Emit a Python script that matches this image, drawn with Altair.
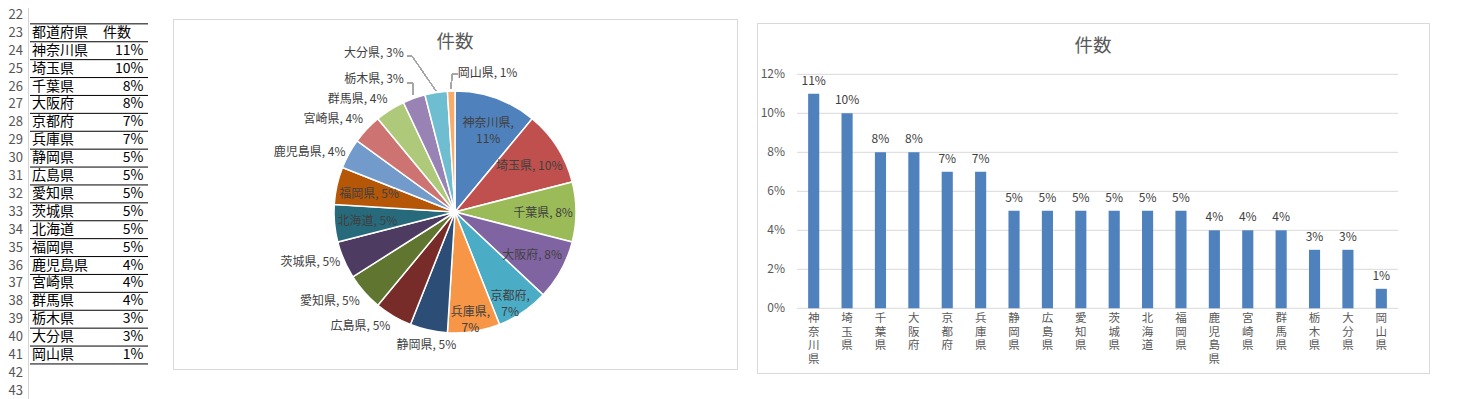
import math
import altair as alt
import pandas as pd

# ---------------- data ----------------
PREFS = ["神奈川県", "埼玉県", "千葉県", "大阪府", "京都府", "兵庫県", "静岡県", "広島県", "愛知県",
         "茨城県", "北海道", "福岡県", "鹿児島県", "宮崎県", "群馬県", "栃木県", "大分県", "岡山県"]
PCTS = [11, 10, 8, 8, 7, 7, 5, 5, 5, 5, 5, 5, 4, 4, 4, 3, 3, 1]
TABLE_HEADER = ["都道府県", "件数"]
ROW_NUMBERS = [22, 23, 24, 25, 26, 27, 28, 29, 30, 31, 32, 33, 34, 35, 36, 37, 38, 39, 40, 41, 42, 43]
Y_TICKS = [0, 2, 4, 6, 8, 10, 12]
CHART_TITLE = "件数"

# ---------------- styles / layout ----------------
SLICE_COLORS = ["#4F81BD", "#C0504D", "#9BBB59", "#8064A2", "#4BACC6", "#F79646",
                "#2C4D75", "#772C2A", "#5F7530", "#4D3B62", "#276A7C", "#B65708",
                "#729ACA", "#CD7371", "#AFC97A", "#9983B5", "#6FBDD1", "#F9AB6B"]
BAR_COLOR = "#4F81BD"
FONT = "Noto Sans CJK JP"
TXT = "#404040"
AX = "#595959"
FRAME = "#D9D9D9"
M = 8
W, H = 1451, 391


def P(v):
    return v - M


FIRST_DATA_ROW = 24
HEADER_ROW = 23

# pie
PIE_CX, PIE_CY, PIE_R = P(455), P(212), 121
LABEL_GROUPS = [
    # names, radius, align, baseline, dx, dy, two_line
    (["埼玉県", "千葉県", "大阪府", "北海道", "福岡県"], 88, "center", "middle", 0, 1, False),
    (["神奈川県", "京都府", "兵庫県"], 98, "center", "middle", 0, 3, True),
    (["静岡県"], 131, "center", "top", 0, 0, False),
    (["広島県", "愛知県"], 127, "right", "top", 0, 0, False),
    (["茨城県", "鹿児島県"], 125, "right", "middle", 0, 0, False),
    (["宮崎県", "群馬県"], 126, "right", "bottom", 0, 0, False),
    (["栃木県"], 136, "right", "bottom", -5, 2, False),
    (["大分県"], 155, "right", "bottom", -27, 1, False),
    (["岡山県"], 139, "left", "middle", 7, 0, False),
]
LEADERS = [
    ((407, 83), (413, 83)), ((413, 83), (413, 95)),
    ((407, 56), (412, 56)), ((412, 56), (436, 91)),
    ((458, 74), (452, 74)), ((452, 74), (451, 89)),
]

# ---------------- tables ----------------
rows_df = pd.DataFrame({"row": ROW_NUMBERS})
tbl_df = pd.DataFrame({
    "i": list(range(len(PREFS))),
    "name": PREFS,
    "pct": PCTS,
})
tbl_df["row"] = [ROW_NUMBERS[ROW_NUMBERS.index(FIRST_DATA_ROW) + k] for k in range(len(PREFS))]
hdr_df = pd.DataFrame({"row": [HEADER_ROW, HEADER_ROW], "txt": TABLE_HEADER, "col": [0, 1]})
line_df = pd.DataFrame({"row": [r for r in ROW_NUMBERS if HEADER_ROW - 1 <= r <= tbl_df["row"].max()]})
tick_df = pd.DataFrame({"v": Y_TICKS})

row_scale = alt.Scale(domain=[22, 43], range=[P(14.9), P(390.8)], nice=False, zero=False)
theta_scale = alt.Scale(domain=[0, 100], range=[0, 2 * math.pi])
xband = alt.Scale(domain=PREFS, range=[P(797), P(1398)], paddingInner=2 / 3, paddingOuter=1 / 3)
yscale = alt.Scale(domain=[0, 12], range=[P(308.3), P(74.3)], nice=False, zero=False)

layers = []

# ---------- spreadsheet part ----------
layers.append(alt.Chart(rows_df).mark_text(align="left", baseline="middle", font=FONT, fontSize=13,
                                           color="#555555").encode(
    x=alt.value(0.5), y=alt.Y("row:Q", scale=row_scale, axis=None), text="row:N"))
layers.append(alt.Chart(rows_df).mark_rule(color="#D4D4D4", strokeWidth=1).encode(
    x=alt.value(P(28.5)), y=alt.value(0), y2=alt.value(H)))
layers.append(alt.Chart(line_df).transform_calculate(yy="datum.row + 0.5").mark_rule(
    color="#000000", strokeWidth=1).encode(
    x=alt.value(P(30)), x2=alt.value(P(148)), y=alt.Y("yy:Q", scale=row_scale, axis=None)))
layers.append(alt.Chart(hdr_df).transform_filter("datum.col == 0").mark_text(
    align="left", baseline="middle", font=FONT, fontSize=14, color="#000000").encode(
    x=alt.value(P(32)), y=alt.Y("row:Q", scale=row_scale, axis=None), text="txt:N"))
layers.append(alt.Chart(hdr_df).transform_filter("datum.col == 1").mark_text(
    align="left", baseline="middle", font=FONT, fontSize=14, color="#000000").encode(
    x=alt.value(P(103)), y=alt.Y("row:Q", scale=row_scale, axis=None), text="txt:N"))
layers.append(alt.Chart(tbl_df).mark_text(
    align="left", baseline="middle", font=FONT, fontSize=14, color="#000000").encode(
    x=alt.value(P(32)), y=alt.Y("row:Q", scale=row_scale, axis=None), text="name:N"))
layers.append(alt.Chart(tbl_df).transform_calculate(lbl="datum.pct + '%'").mark_text(
    align="right", baseline="middle", font=FONT, fontSize=14, color="#000000").encode(
    x=alt.value(P(143.5)), y=alt.Y("row:Q", scale=row_scale, axis=None), text="lbl:N"))

# ---------- pie chart ----------
layers.append(alt.Chart(rows_df).mark_rect(fill="white", stroke=FRAME, strokeWidth=1).encode(
    x=alt.value(P(173.5)), x2=alt.value(P(737.5)), y=alt.value(P(19.5)), y2=alt.value(P(369.5))))
layers.append(alt.Chart(pd.DataFrame({"t": [CHART_TITLE]})).mark_text(
    font=FONT, fontSize=18.5, color=AX, baseline="middle", align="center").encode(
    x=alt.value(P(455)), y=alt.value(P(42)), text="t:N"))


def pie_base():
    return alt.Chart(tbl_df).transform_window(
        end="sum(pct)", sort=[alt.SortField("i")], frame=[None, 0]
    ).transform_calculate(start="datum.end - datum.pct", mid="datum.end - datum.pct / 2")


layers.append(pie_base().mark_arc(outerRadius=PIE_R, stroke="white", strokeWidth=1.5).encode(
    theta=alt.Theta("start:Q", scale=theta_scale),
    theta2="end:Q",
    color=alt.Color("name:N", scale=alt.Scale(domain=PREFS, range=SLICE_COLORS), legend=None),
    x=alt.value(PIE_CX), y=alt.value(PIE_CY)))

for names, r, al, bl, dx, dy, two in LABEL_GROUPS:
    sep = ",\\n" if two else ", "
    lst = "[" + ",".join("'" + n + "'" for n in names) + "]"
    layers.append(pie_base().transform_filter("indexof(" + lst + ", datum.name) >= 0").transform_calculate(
        lbl="datum.name + '" + sep + "' + datum.pct + '%'").mark_text(
        radius=r, align=al, baseline=bl, dx=dx, dy=dy, font=FONT, fontSize=12, color=TXT,
        lineBreak="\n", lineHeight=16).encode(
        theta=alt.Theta("mid:Q", scale=theta_scale),
        x=alt.value(PIE_CX), y=alt.value(PIE_CY), text="lbl:N"))

for (x1, y1), (x2, y2) in LEADERS:
    layers.append(alt.Chart(rows_df).mark_rule(color="#A6A6A6", strokeWidth=1).encode(
        x=alt.value(P(x1)), y=alt.value(P(y1)), x2=alt.value(P(x2)), y2=alt.value(P(y2))))

# ---------- bar chart ----------
layers.append(alt.Chart(rows_df).mark_rect(fill="white", stroke=FRAME, strokeWidth=1).encode(
    x=alt.value(P(757.5)), x2=alt.value(P(1429.5)), y=alt.value(P(23.5)), y2=alt.value(P(373.5))))
layers.append(alt.Chart(pd.DataFrame({"t": [CHART_TITLE]})).mark_text(
    font=FONT, fontSize=18.5, color=AX, baseline="middle", align="center").encode(
    x=alt.value(P(1093)), y=alt.value(P(46)), text="t:N"))
layers.append(alt.Chart(tick_df).mark_rule(color=FRAME, strokeWidth=1).encode(
    x=alt.value(P(797)), x2=alt.value(P(1398)), y=alt.Y("v:Q", scale=yscale, axis=None)))
layers.append(alt.Chart(tick_df).transform_calculate(lbl="datum.v + '%'").mark_text(
    align="right", baseline="middle", font=FONT, fontSize=12, color=AX).encode(
    x=alt.value(P(785)), y=alt.Y("v:Q", scale=yscale, axis=None), text="lbl:N"))
layers.append(alt.Chart(tbl_df).transform_calculate(base="0").mark_bar(color=BAR_COLOR).encode(
    x=alt.X("name:N", scale=xband, sort=PREFS, axis=None),
    y=alt.Y("pct:Q", scale=yscale, axis=None), y2="base:Q"))
layers.append(alt.Chart(tbl_df).transform_calculate(lbl="datum.pct + '%'").mark_text(
    align="center", baseline="middle", dy=-13, font=FONT, fontSize=12, color=TXT).encode(
    x=alt.X("name:N", scale=xband, sort=PREFS, axis=None),
    y=alt.Y("pct:Q", scale=yscale, axis=None), text="lbl:N"))
layers.append(alt.Chart(tbl_df).transform_calculate(lbl="join(split(datum.name, ''), '\\n')").mark_text(
    align="center", baseline="top", font=FONT, fontSize=11.5, color=AX, lineBreak="\n",
    lineHeight=13.5).encode(
    x=alt.X("name:N", scale=xband, sort=PREFS, axis=None),
    y=alt.value(P(313)), text="lbl:N"))

chart = alt.layer(*layers).resolve_scale(
    x="independent", y="independent", theta="independent", color="independent"
).properties(width=W, height=H, padding=0, autosize="none", background="white"
).configure_view(stroke=None)

chart.save("out.html", embed_options={"renderer": "svg", "actions": False})
